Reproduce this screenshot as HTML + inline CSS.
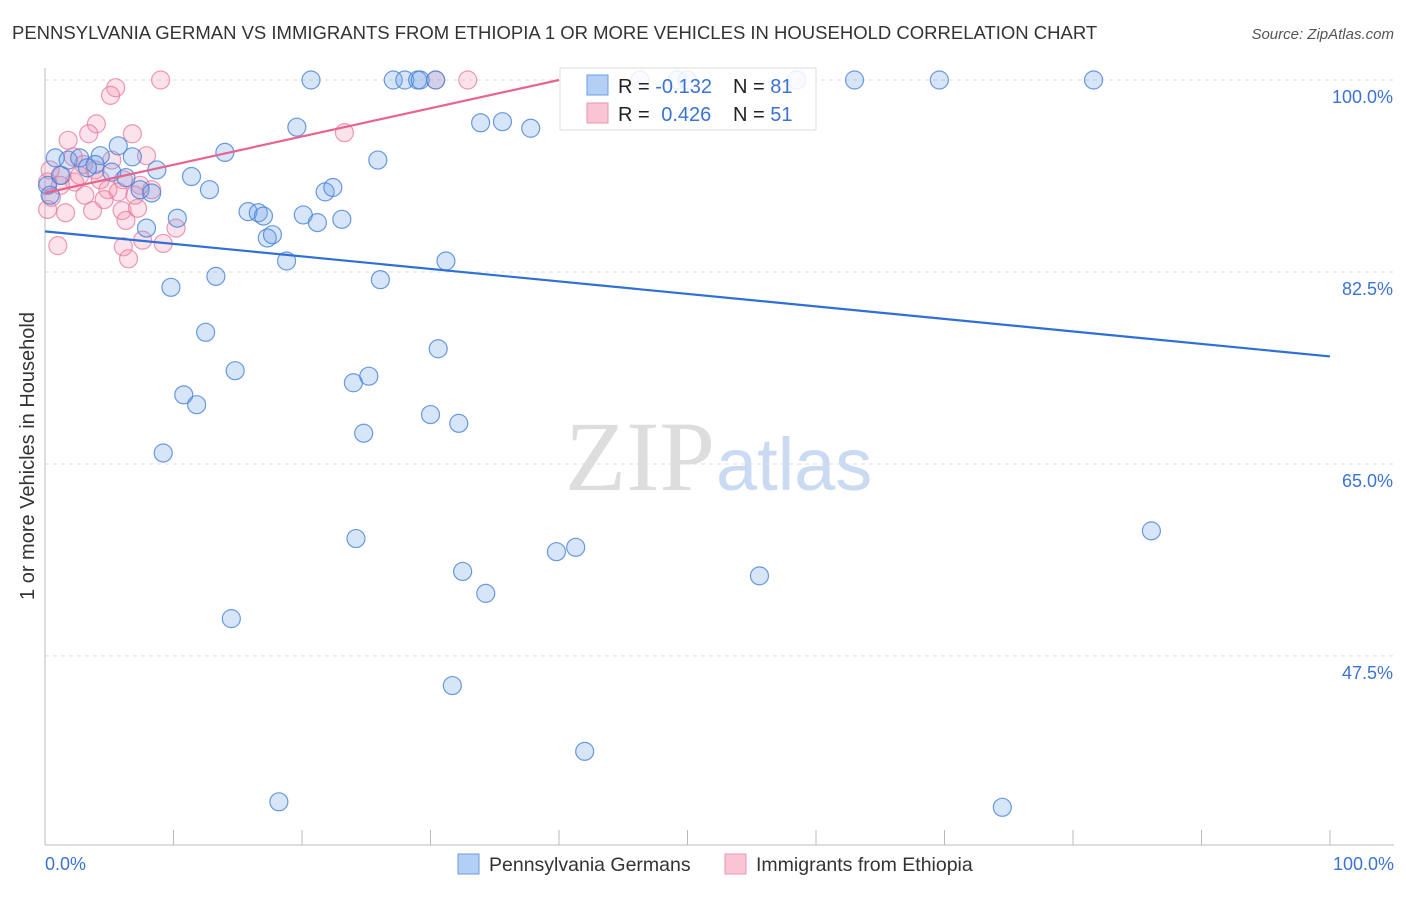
<!DOCTYPE html>
<html><head><meta charset="utf-8"><style>
body{margin:0;background:#fff;font-family:"Liberation Sans",sans-serif;}
</style></head><body>
<svg width="1406" height="892" xmlns="http://www.w3.org/2000/svg" id="svg">
<text x="12" y="39" font-size="18.5" fill="#333">PENNSYLVANIA GERMAN VS IMMIGRANTS FROM ETHIOPIA 1 OR MORE VEHICLES IN HOUSEHOLD CORRELATION CHART</text>
<text x="1394" y="39" font-size="15" fill="#555" text-anchor="end" font-style="italic">Source: ZipAtlas.com</text>
<text x="715" y="490" font-size="100" fill="#ddd" text-anchor="end" font-family="Liberation Serif">ZIP</text>
<text x="716" y="490" font-size="74" fill="#c9daf2">atlas</text>
<g id="grid"></g>
<g id="axes"></g>
<g id="pts"></g>
<g id="trend"></g>
<text transform="translate(34,456) rotate(-90)" font-size="20" fill="#333" text-anchor="middle">1 or more Vehicles in Household</text>
<g>
<rect x="560" y="68" width="256" height="62" fill="rgba(255,255,255,0.85)" stroke="#ddd"/>
<rect x="587" y="75" width="21" height="20" fill="#b4cff5" stroke="#6a9ee0"/>
<rect x="587" y="103" width="21" height="20" fill="#f9c4d3" stroke="#ec93ae"/>
<text x="618" y="93" font-size="20" fill="#222">R = <tspan fill="#3b73d3">-0.132</tspan></text>
<text x="733" y="93" font-size="20" fill="#222">N = <tspan fill="#3b73d3">81</tspan></text>
<text x="618" y="121" font-size="20" fill="#222">R = <tspan fill="#3b73d3" dx="6">0.426</tspan></text>
<text x="733" y="121" font-size="20" fill="#222">N = <tspan fill="#3b73d3">51</tspan></text>
</g>
<g>
<rect x="458" y="854" width="21" height="20" fill="#b4cff5" stroke="#6a9ee0"/>
<text x="489" y="871" font-size="19.5" fill="#333">Pennsylvania Germans</text>
<rect x="725" y="854" width="21" height="20" fill="#f9c4d3" stroke="#ec93ae"/>
<text x="756" y="871" font-size="19.5" fill="#333">Immigrants from Ethiopia</text>
</g>
</svg>
<script>
const yTicks=[100,82.5,65,47.5];
const yTickLabels=["100.0%","82.5%","65.0%","47.5%"];
const xEndLabels=["0.0%","100.0%"];
const blueX=[20.7,27.1,28.0,29.0,29.2,30.4,46.3,50.0,58.5,63.0,69.6,81.6,0.8,1.8,2.7,4.3,3.9,5.7,6.8,5.2,6.3,8.7,11.4,14.0,12.8,7.4,8.3,10.3,7.9,15.8,16.6,17.0,17.3,17.7,20.1,21.2,23.1,21.8,22.4,19.6,25.9,33.9,35.6,37.8,18.8,26.1,31.2,9.8,13.3,12.5,14.8,10.8,11.8,9.2,24.0,25.2,24.8,30.6,30.0,32.2,24.2,32.5,34.3,39.8,41.3,55.6,86.1,14.5,31.7,42.0,18.2,74.5,0.2,0.4,1.2,3.3,49.2];
const blueY=[100,100,100,100,100,100,100,100,100,100,100,100,92.9,92.7,92.9,93.1,92.3,94.0,93.0,91.6,91.1,91.8,91.2,93.4,90.0,90.0,89.7,87.4,86.5,88.0,87.9,87.6,85.6,85.9,87.7,87.0,87.3,89.8,90.2,95.7,92.7,96.1,96.2,95.6,83.5,81.8,83.5,81.1,82.1,77.0,73.5,71.3,70.4,66.0,72.4,73.0,67.8,75.5,69.5,68.7,58.2,55.2,53.2,57.0,57.4,54.8,58.9,50.9,44.8,38.8,34.2,33.7,90.4,89.5,91.3,92.0,100];
const pinkX=[9.0,30.4,32.9,5.5,5.1,4.0,3.4,1.8,6.8,7.9,23.3,2.2,3.0,1.3,2.3,4.3,6.1,7.4,4.9,5.7,3.1,0.2,0.5,1.6,3.7,6.0,7.2,6.3,4.6,8.3,10.2,7.6,6.1,6.5,9.2,1.0,0.2,0.4,1.2,2.7,3.9,7.0,5.2];
const pinkY=[100,100,100,99.3,98.6,96.0,95.1,94.5,95.1,93.1,95.2,93.0,92.3,91.3,90.7,90.9,90.9,90.4,90.0,89.8,89.5,90.7,89.3,87.9,88.1,88.1,88.3,87.2,89.1,90.0,86.5,85.4,84.8,83.7,85.1,84.9,88.2,91.8,90.4,91.3,91.8,89.5,92.7];
const blueTrend=[86.2,74.8];
const pinkTrend=[89.7,100];
const pinkTrendEnd=40;
const NS="http://www.w3.org/2000/svg";
const X=v=>45+v*12.85, Y=v=>80+(100-v)*10.97;
function mk(t,a,p){const e=document.createElementNS(NS,t);for(const k in a)e.setAttribute(k,a[k]);document.getElementById(p).appendChild(e);return e;}
yTicks.forEach((t,i)=>{
 let l=mk('line',{x1:45,x2:1394,y1:Y(t),y2:Y(t),stroke:'#ddd','stroke-dasharray':'4,4'},'grid');
 
 
 let tx=mk('text',{x:1393,y:Y(t)+23,'font-size':18,fill:'#3b73d3','text-anchor':'end'},'axes');tx.textContent=yTickLabels[i];
 
 
});
let ax=mk('line',{x1:45,x2:45,y1:68,y2:845,stroke:'#bbb'},'axes');


let bx=mk('line',{x1:45,x2:1394,y1:845,y2:845,stroke:'#bbb'},'axes');


for(let i=0;i<=10;i++){let t=mk('line',{x1:X(i*10),x2:X(i*10),y1:830,y2:845,stroke:'#bbb'},'axes');
 
 }
[[0,'start',45],[1,'end',1394]].forEach(([i,a,x])=>{let t=mk('text',{x:x,y:870,'font-size':18,fill:'#3b73d3','text-anchor':a},'axes');t.textContent=xEndLabels[i];
 
 });
pinkX.forEach((v,i)=>{let c=mk('circle',{cx:X(v),cy:Y(pinkY[i]),r:9,fill:'rgba(244,150,178,0.28)',stroke:'rgba(232,120,155,0.75)','stroke-width':1.2},'pts');
 
 });
blueX.forEach((v,i)=>{let c=mk('circle',{cx:X(v),cy:Y(blueY[i]),r:9,fill:'rgba(110,160,235,0.28)',stroke:'rgba(70,130,215,0.8)','stroke-width':1.2},'pts');
 
 });
let tb=mk('line',{x1:X(0),y1:Y(blueTrend[0]),x2:X(100),y2:Y(blueTrend[1]),stroke:'#2f6fd6','stroke-width':2.2},'trend');


let tp=mk('line',{x1:X(0),y1:Y(pinkTrend[0]),x2:X(pinkTrendEnd),y2:Y(pinkTrend[1]),stroke:'#e8648e','stroke-width':2.2},'trend');


</script>
</body></html>
